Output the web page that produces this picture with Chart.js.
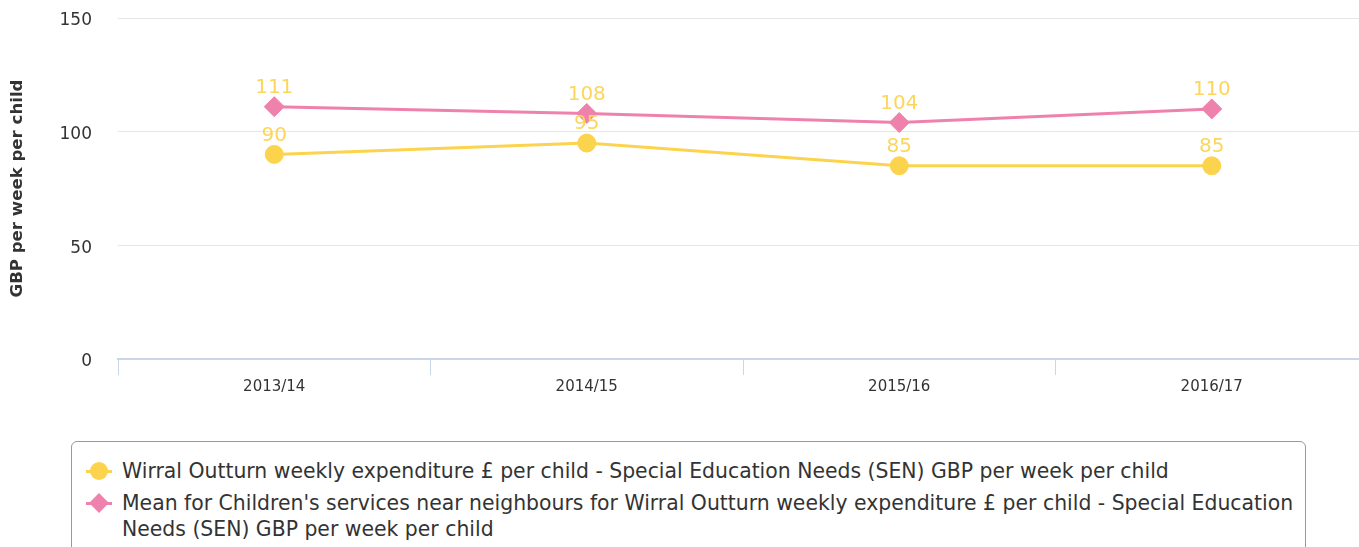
<!DOCTYPE html>
<html>
<head>
<meta charset="utf-8">
<script src="https://cdn.jsdelivr.net/npm/chart.js@4/dist/chart.umd.min.js"></script>
<style>
  html, body { margin: 0; padding: 0; background: #fff; overflow: hidden; }
  #wrap { position: relative; width: 1359px; height: 547px; overflow: hidden; }
  #c { position: absolute; left: 0; top: 0; }
  #legend { position: absolute; left: 71px; top: 441px; width: 1235px; height: 140px;
    border: 1px solid #999; border-radius: 6px; box-sizing: border-box;
    font-family: "DejaVu Sans", sans-serif; font-size: 20.4px; color: #333; }
  .item { position: absolute; left: 50px; width: 1180px; line-height: 26px; }
  .mk { position: absolute; left: -36px; top: 13px; width: 26px; height: 3px; margin-top: -1.5px; }
  .sym { position: absolute; left: 4px; top: -8px; width: 18px; height: 18px; }
</style>
</head>
<body>
<div id="wrap">
  <canvas id="c" width="1379" height="430"></canvas>
  <div id="legend"></div>
</div>
<script>
const categories = ["2013/14", "2014/15", "2015/16", "2016/17"];
const wirralValues = [90, 95, 85, 85];
const neighbourValues = [111, 108, 104, 110];
const yTicks = [0, 50, 100, 150];
const seriesNames = [
  "Wirral Outturn weekly expenditure £ per child - Special Education Needs (SEN) GBP per week per child",
  "Mean for Children's services near neighbours for Wirral Outturn weekly expenditure £ per child - Special Education Needs (SEN) GBP per week per child"
];
const yTitle = "GBP per week per child";

const YELLOW = "rgb(252,211,77)";
const PINK = "rgb(238,130,172)";
const LABEL = "rgb(252,214,92)";
const FONT = "'DejaVu Sans', sans-serif";

const dataLabels = {
  id: "dataLabels",
  afterDatasetsDraw(chart) {
    const ctx = chart.ctx;
    ctx.save();
    ctx.font = "20px " + FONT;
    ctx.fillStyle = LABEL;
    ctx.textAlign = "center";
    ctx.textBaseline = "middle";
    chart.data.datasets.forEach((ds, i) => {
      const meta = chart.getDatasetMeta(i);
      meta.data.forEach((pt, j) => {
        ctx.fillText(String(ds.data[j]), pt.x, pt.y - 19);
      });
    });
    ctx.restore();
  }
};

new Chart(document.getElementById("c"), {
  type: "line",
  data: {
    labels: categories,
    datasets: [
      { label: seriesNames[0], data: wirralValues, borderColor: YELLOW, backgroundColor: YELLOW,
        borderWidth: 3, pointStyle: "circle", pointRadius: 9, pointBorderWidth: 1,
        pointBackgroundColor: YELLOW, pointBorderColor: YELLOW, tension: 0, order: 1 },
      { label: seriesNames[1], data: neighbourValues, borderColor: PINK, backgroundColor: PINK,
        borderWidth: 3, pointStyle: "rectRot", pointRadius: 10, pointBorderWidth: 1,
        pointBackgroundColor: PINK, pointBorderColor: PINK, tension: 0, order: 2 }
    ]
  },
  options: {
    responsive: false,
    animation: false,
    events: [],
    layout: { padding: { top: 0, right: 0, left: 0, bottom: 0 } },
    plugins: { legend: { display: false }, tooltip: { enabled: false } },
    scales: {
      x: {
        type: "category",
        offset: true,
        grid: { display: true, offset: true, drawOnChartArea: false, drawTicks: true,
                tickLength: 16, color: "#ccd6eb", lineWidth: 1 },
        border: { display: true, color: "#ccd6eb", width: 2 },
        ticks: { font: { family: FONT, size: 15 }, color: "#333", padding: 3, maxRotation: 0 },
        afterFit(s) { s.height = 71; s.paddingLeft = 0; s.paddingRight = 0; }
      },
      y: {
        min: 0, max: 150,
        afterBuildTicks(s) { s.ticks = yTicks.map(v => ({ value: v })); },
        grid: { color: "#e6e6e6", lineWidth: 1, drawTicks: false },
        border: { display: false },
        ticks: { font: { family: FONT, size: 17 }, color: "#333", padding: 26, labelOffset: 3 },
        title: { display: true, text: yTitle, color: "#333",
                 font: { family: FONT, size: 16.6, weight: "bold" }, padding: { top: 8, bottom: 0 } },
        afterFit(s) { s.width = 118; s.paddingTop = 18; s.paddingBottom = 0; }
      }
    }
  },
  plugins: [dataLabels]
});

// HTML legend (real text)
const legend = document.getElementById("legend");
const styles = [
  { color: YELLOW, round: true },
  { color: PINK, round: false }
];
const tops = [16, 48];
seriesNames.forEach((name, i) => {
  const it = document.createElement("div");
  it.className = "item";
  it.style.top = tops[i] + "px";
  const mk = document.createElement("div");
  mk.className = "mk";
  mk.style.background = styles[i].color;
  const sym = document.createElement("div");
  sym.className = "sym";
  sym.style.background = styles[i].color;
  if (styles[i].round) { sym.style.borderRadius = "50%"; }
  else { sym.style.width = "14px"; sym.style.height = "14px"; sym.style.left = "6px"; sym.style.top = "-6px";
         sym.style.transform = "rotate(45deg)"; }
  mk.appendChild(sym);
  it.appendChild(mk);
  it.appendChild(document.createTextNode(name));
  legend.appendChild(it);
});
</script>
</body>
</html>
